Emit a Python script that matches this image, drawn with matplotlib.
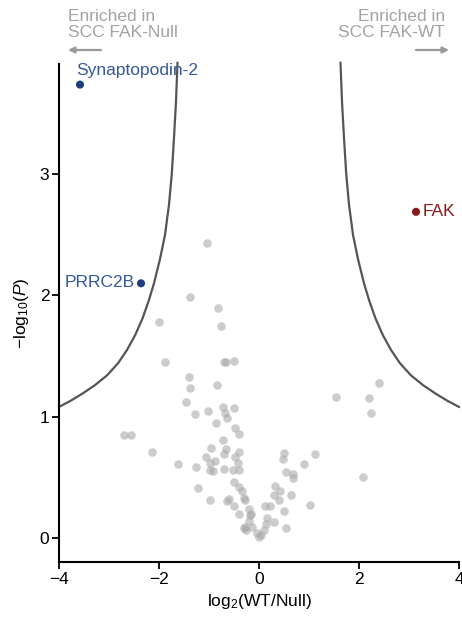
import matplotlib
matplotlib.use("Agg")
import matplotlib.pyplot as plt
from matplotlib.patches import FancyArrowPatch

plt.rcParams['font.family'] = ['Liberation Sans', 'DejaVu Sans']
plt.rcParams['mathtext.fontset'] = 'custom'
plt.rcParams['mathtext.rm'] = 'Liberation Sans'
plt.rcParams['mathtext.it'] = 'Liberation Sans:italic'

# non-significant proteins (log2 WT/Null, -log10 P)
fc_ns = [-1.05, -1.39, -0.83, -2.00, -0.77, -1.88, -0.71, -0.67, -0.51, -1.41,
         -1.39, -0.85, -1.47, -1.29, -1.02, -0.73, -0.51, -0.69, -0.65, -0.87,
         -0.49, -2.71, -2.56, -2.15, -1.63, -1.27, -1.22, -0.99, -0.40, -0.73,
         -0.97, -0.66, -0.71, -1.06, -0.89, -0.98, -0.98, -0.93, -0.71, -0.53,
         -0.41, -0.41, -0.48, -0.43, -0.51, -0.41, -0.35, -0.31, -0.61, -0.51,
         -0.41, -0.28, -0.21, -0.18, -0.21, -0.28, -0.15, -0.05, -0.01, 0.03,
         0.09, 0.14, 0.15, 0.12, 0.22, 0.30, 0.53, 0.49, 0.40, 0.30,
         0.32, 0.42, 0.63, 1.02, 0.53, 0.67, 0.67, 0.49, 0.47, 0.89,
         1.12, 2.39, 1.53, 2.19, 2.23, 2.08, -0.31, -0.26, -0.17, -0.64]
logp_ns = [2.43, 1.99, 1.90, 1.78, 1.75, 1.45, 1.45, 1.45, 1.46, 1.33,
           1.24, 1.26, 1.12, 1.02, 1.05, 1.08, 1.07, 1.03, 0.99, 0.95,
           0.91, 0.85, 0.85, 0.71, 0.61, 0.58, 0.41, 0.31, 0.86, 0.81,
           0.74, 0.73, 0.69, 0.67, 0.63, 0.62, 0.56, 0.55, 0.57, 0.56,
           0.56, 0.71, 0.67, 0.62, 0.46, 0.42, 0.39, 0.33, 0.32, 0.26,
           0.20, 0.31, 0.24, 0.19, 0.14, 0.09, 0.09, 0.04, 0.01, 0.02,
           0.06, 0.11, 0.16, 0.26, 0.26, 0.13, 0.08, 0.22, 0.31, 0.35,
           0.43, 0.39, 0.35, 0.27, 0.54, 0.53, 0.49, 0.70, 0.65, 0.61,
           0.69, 1.28, 1.16, 1.15, 1.03, 0.50, 0.08, 0.06, 0.20, 0.30]

# labelled hits
hit_names = ['Synaptopodin-2', 'PRRC2B', 'FAK']
hit_fc = [-3.58, -2.36, 3.14]
hit_logp = [3.74, 2.10, 2.69]
hit_colors = ['#1d3f7e', '#1d3f7e', '#8a1a1a']
text_colors = ['#34589a', '#34589a', '#8a1a1a']

# significance threshold curve (|log2 FC|, -log10 P)
curve_abs_fc = [1.63, 1.66, 1.70, 1.745, 1.80, 1.88, 1.98, 2.10, 2.21, 2.33,
                2.48, 2.64, 2.82, 3.04, 3.28, 3.53, 3.77, 4.00]
curve_logp = [3.92, 3.60, 3.30, 3.00, 2.75, 2.50, 2.30, 2.10, 1.95, 1.81,
              1.67, 1.55, 1.44, 1.34, 1.26, 1.19, 1.13, 1.08]

W, H = 462, 617
fig = plt.figure(figsize=(W / 100, H / 100), dpi=100)
ax = fig.add_axes([59 / W, 1 - 562 / H, 400 / W, 498 / H])

# threshold curves, both sides
ax.plot(curve_abs_fc, curve_logp, color='#555555', lw=1.6, clip_on=False)
ax.plot([-v for v in curve_abs_fc], curve_logp, color='#555555', lw=1.6, clip_on=False)

ax.scatter(fc_ns, logp_ns, s=38, color='#aaaaaa', alpha=0.6, linewidths=0, zorder=3)
ax.scatter(hit_fc, hit_logp, s=34, c=hit_colors, linewidths=0, zorder=4)

# labels next to hits
ax.annotate(hit_names[0], (hit_fc[0], hit_logp[0]), xytext=(-3, 10),
            textcoords='offset points', ha='left', va='center',
            color=text_colors[0], fontsize=12.5, annotation_clip=False)
ax.annotate(hit_names[1], (hit_fc[1], hit_logp[1]), xytext=(-4.5, 0.5),
            textcoords='offset points', ha='right', va='center',
            color=text_colors[1], fontsize=12.5)
ax.annotate(hit_names[2], (hit_fc[2], hit_logp[2]), xytext=(4.5, 0),
            textcoords='offset points', ha='left', va='center',
            color=text_colors[2], fontsize=12.5)

ax.set_xlim(-4, 4)
ax.set_ylim(-0.2, 3.91)
ax.set_xticks([-4, -2, 0, 2, 4])
ax.set_yticks([0, 1, 2, 3])
ax.spines['top'].set_visible(False)
ax.spines['right'].set_visible(False)
for s in ['left', 'bottom']:
    ax.spines[s].set_linewidth(1.5)
ax.tick_params(width=1.3, length=5, labelsize=12.5, pad=2)

ax.set_xlabel('log$_2$(WT/Null)', fontsize=12.5, labelpad=4)
ax.set_ylabel(r'$-$log$_{10}$($\it{P}$)', fontsize=12.5, labelpad=6)

# direction annotations above the plot
grey = '#a3a3a3'
fig.text(68 / W, 1 - 9 / H, 'Enriched in\nSCC FAK-Null', ha='left', va='top',
         color=grey, fontsize=12.5, linespacing=1.12)
fig.text(445 / W, 1 - 9 / H, 'Enriched in\nSCC FAK-WT', ha='right', va='top',
         color=grey, fontsize=12.5, linespacing=1.12)
arrow = dict(arrowstyle='-|>', color='#999999', lw=1.6, mutation_scale=9,
             shrinkA=0, shrinkB=0, transform=fig.transFigure)
fig.add_artist(FancyArrowPatch((101 / W, 1 - 50 / H), (68 / W, 1 - 50 / H), **arrow))
fig.add_artist(FancyArrowPatch((416 / W, 1 - 50 / H), (449 / W, 1 - 50 / H), **arrow))

fig.savefig('out.png', dpi=100)
